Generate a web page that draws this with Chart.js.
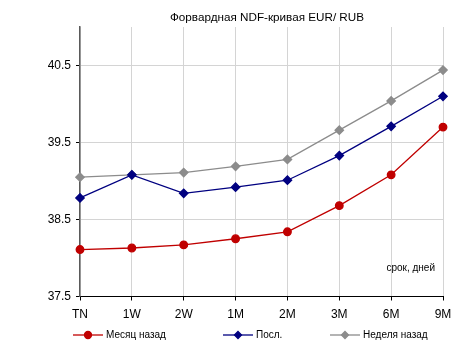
<!DOCTYPE html>
<html><head><meta charset="utf-8">
<script src="https://cdn.jsdelivr.net/npm/chart.js@4"></script>
<style>html,body{margin:0;padding:0;background:#fff;overflow:hidden}</style>
</head><body>
<canvas id="c" width="452" height="340"></canvas>
<script>
const categories = ['TN','1W','2W','1M','2M','3M','6M','9M'];
const monthAgo = [38.11,38.13,38.17,38.25,38.34,38.68,39.08,39.70];
const last = [38.78,39.08,38.84,38.92,39.01,39.33,39.71,40.10];
const weekAgo = [39.05,39.08,39.11,39.19,39.28,39.66,40.04,40.44];
const yTicks = [37.5,38.5,39.5,40.5];
const seriesLabels = ['Месяц назад','Посл.','Неделя назад'];
const chartTitle = 'Форвардная NDF-кривая EUR/ RUB';
const axisNote = 'срок, дней';

const FONT = "'Liberation Sans', Arial, sans-serif";
const colors = ['#c00000','#000080','#8c8c8c'];
const styles = ['circle','rectRot','rectRot'];

const extras = {
  id: 'extras',
  afterDraw(chart) {
    const ctx = chart.ctx, a = chart.chartArea;
    ctx.save();
    ctx.textBaseline = 'middle';
    ctx.fillStyle = '#000';
    ctx.font = '11.7px ' + FONT;
    ctx.textAlign = 'center';
    ctx.fillText(chartTitle, 267, 18);
    ctx.font = '10px ' + FONT;
    ctx.textAlign = 'right';
    ctx.fillText(axisNote, a.right - 8, 268);
    const lx = [73, 223, 330];
    const ly = 335;
    chart.data.datasets.forEach((ds, i) => {
      const x0 = lx[i];
      ctx.strokeStyle = ds.borderColor;
      ctx.fillStyle = ds.borderColor;
      ctx.lineWidth = 1.3;
      ctx.beginPath(); ctx.moveTo(x0, ly); ctx.lineTo(x0 + 30, ly); ctx.stroke();
      Chart.helpers.drawPoint(ctx, { pointStyle: ds.pointStyle, radius: 3.5, borderWidth: 1 }, x0 + 15, ly);
      ctx.fillStyle = '#000';
      ctx.textAlign = 'left';
      ctx.fillText(ds.label, x0 + 33, ly + 0.5);
    });
    ctx.restore();
  }
};

new Chart(document.getElementById('c'), {
  type: 'line',
  data: {
    labels: categories,
    datasets: [monthAgo, last, weekAgo].map((d, i) => ({
      label: seriesLabels[i],
      data: d,
      borderColor: colors[i],
      backgroundColor: colors[i],
      pointBackgroundColor: colors[i],
      pointBorderColor: colors[i],
      pointStyle: styles[i],
      pointRadius: i === 0 ? 3.8 : 4.2,
      borderWidth: 1.3,
      tension: 0,
      fill: false
    }))
  },
  options: {
    responsive: false,
    devicePixelRatio: 1,
    animation: false,
    events: [],
    layout: { padding: { left: 0, right: 9, top: 27, bottom: 13.5 } },
    plugins: { legend: { display: false }, title: { display: false }, tooltip: { enabled: false } },
    scales: {
      x: {
        offset: false,
        grid: { color: '#d4d4d4', lineWidth: 1, tickLength: 4, tickColor: '#000', drawTicks: true },
        border: { color: '#000', width: 1 },
        ticks: { color: '#000', font: { family: FONT, size: 12 }, padding: 7, maxRotation: 0, autoSkip: false },
        afterFit(s) { s.height = 30; s.paddingLeft = 0; s.paddingRight = 0; }
      },
      y: {
        min: 37.5, max: 41,
        afterBuildTicks(s) { s.ticks = yTicks.map(v => ({ value: v })); },
        grid: { color: '#d4d4d4', lineWidth: 1, tickLength: 4, tickColor: '#000', drawTicks: true },
        border: { color: '#5a5a5a', width: 1.5 },
        ticks: { color: '#000', font: { family: FONT, size: 12 }, padding: 5, callback: v => v.toFixed(1) },
        afterFit(s) { s.width = 80; s.paddingTop = 0; s.paddingBottom = 0; }
      }
    }
  },
  plugins: [extras]
});
</script>
</body></html>
